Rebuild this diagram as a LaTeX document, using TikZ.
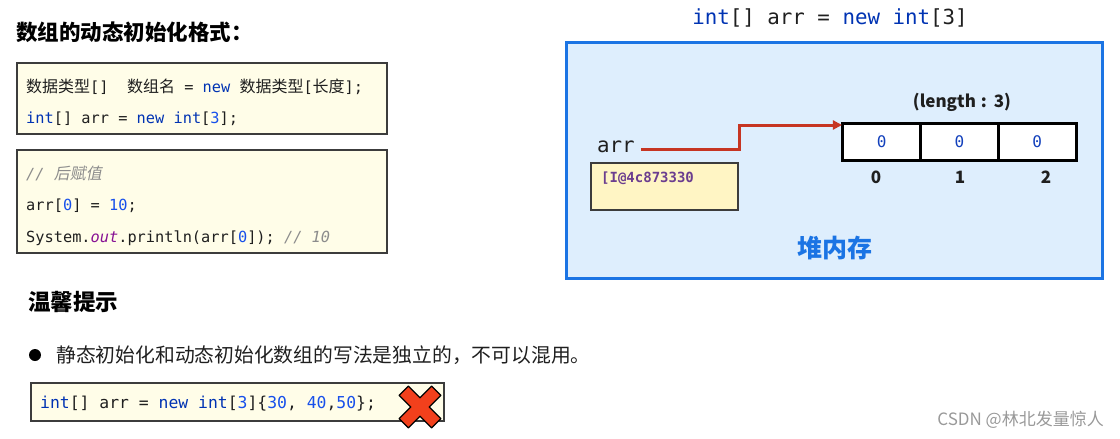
\documentclass[tikz,border=0pt]{standalone}
\usepackage{fontspec}
\setmainfont{Noto Sans CJK SC}
\setmonofont{DejaVu Sans Mono}
\newfontfamily\cjkslant{Noto Sans CJK SC}[FakeSlant=0.2]
\usetikzlibrary{arrows.meta,positioning,calc}
\definecolor{codefill}{HTML}{FFFDE8}
\definecolor{codeline}{HTML}{3C3C3C}
\definecolor{kwblue}{HTML}{0033B3}
\definecolor{numblue}{HTML}{1750EB}
\definecolor{cmtgray}{HTML}{8C8C8C}
\definecolor{fieldpurple}{HTML}{871094}
\definecolor{heapfill}{HTML}{DEEEFD}
\definecolor{heapblue}{HTML}{1B74E4}
\definecolor{ptrred}{HTML}{C63522}
\definecolor{addrfill}{HTML}{FFF5C4}
\definecolor{addrpurple}{HTML}{6B3D8F}
\definecolor{xred}{HTML}{F2401C}
\definecolor{inkdark}{HTML}{1F1F1F}

\newcommand{\fs}[1]{\fontsize{#1}{#1}\selectfont}
\newcommand{\kw}[1]{\textcolor{kwblue}{#1}}
\newcommand{\nm}[1]{\textcolor{numblue}{#1}}
\newcommand{\cmt}[1]{\textcolor{cmtgray}{\itshape #1}}
\newcommand{\zh}[1]{{\rmfamily #1}}

\tikzset{
  codebox/.style={draw=codeline, fill=codefill, line width=1.2pt, inner sep=0pt},
  codetext/.style={anchor=west, inner sep=0pt, text=inkdark, font=\ttfamily\fs{15.3}},
  heapbox/.style={draw=heapblue, fill=heapfill, line width=3pt, inner sep=0pt},
  cellbox/.style={draw=black, fill=white, line width=3pt, inner sep=0pt, outer sep=0pt,
    minimum width=77.7pt, minimum height=37pt, text=numblue!80!black, font=\ttfamily\fs{16}},
  idx/.style={inner sep=0pt, text=inkdark, font=\bfseries\fs{17}},
  ptr/.style={draw=ptrred, line width=3pt, -{Triangle[length=9pt,width=9pt]}},
}

\begin{document}
\begin{tikzpicture}[x=1pt, y=-1pt, node distance=0pt]
  \useasboundingbox (0,0) rectangle (1120,439);

  % left: dynamic init format
  \node[anchor=west, inner sep=0pt, text=black, font=\bfseries\fs{21.5}] (title) at (16,32) {数组的动态初始化格式：};
  \node[codebox, minimum width=370pt, minimum height=71pt] (fmt) at (202,98.5) {};
  \node[codetext] (fmt1) at (26,87) {\zh{\fs{16}数据类型}[]\ \ \zh{\fs{16}数组名} = \kw{new} \zh{\fs{16}数据类型}[\zh{\fs{16}长度}];};
  \node[codetext] (fmt2) at (26,119) {\kw{int}[] arr = \kw{new} \kw{int}[\nm{3}];};

  \node[codebox, minimum width=370pt, minimum height=103pt] (assign) at (202,201.5) {};
  \node[codetext] (asg1) at (26,173) {\cmt{// {\cjkslant\fs{16}后赋值}}};
  \node[codetext] (asg2) at (26,206) {arr[\nm{0}] = \nm{10};};
  \node[codetext] (asg3) at (26,238) {System.\textcolor{fieldpurple}{\itshape out}.println(arr[\nm{0}]); \cmt{// 10}};

  % right: heap memory
  \node[heapbox, minimum width=536pt, minimum height=236pt] (heap) at (834,160) {};
  \node[inner sep=0pt, text=inkdark, font=\ttfamily\fs{20.8}] (decl) at (830,18) {\kw{int}[] arr = \kw{new} \kw{int}[3]};
  \node[anchor=base west, inner sep=0pt, text=inkdark, font=\ttfamily\fs{20.8}] (arr) at (597,152) {arr};
  \node[draw=codeline, fill=addrfill, line width=1.2pt, minimum width=147pt, minimum height=47pt] (addrbox) at (664.5,186.5) {};
  \node[anchor=west, inner sep=0pt, text=addrpurple, font=\ttfamily\bfseries\fs{14}] (addr) at (601,178) {[I@4c873330};

  \node[cellbox] (c0) at (881.8,141.5) {0};
  \node[cellbox, right=of c0] (c1) {0};
  \node[cellbox, right=of c1] (c2) {0};
  \node[idx] (i0) at (876,177) {0};
  \node[idx] (i1) at (960,177) {1};
  \node[idx] (i2) at (1046,177) {2};
  \node[inner sep=0pt, text=inkdark, font=\bfseries\fs{17}] (len) at (962,102) {(length\hspace{5pt}:\hspace{7pt}3)};
  \node[inner sep=0pt, text=heapblue, font=\bfseries\fs{25}] (heaplbl) at (835,248) {堆内存};

  \draw[ptr, shorten >=1pt] ([shift={(6,3.5)}]arr.east) -- ++(99,0) |- ([yshift=-2pt]c0.north west);

  % bottom: tip
  \node[anchor=west, inner sep=0pt, text=black, font=\bfseries\fs{22.5}] (tip) at (28,302) {温馨提示};
  \node[circle, fill=black, inner sep=0pt, minimum size=12pt] (dot) at (35,355) {};
  \node[anchor=west, inner sep=0pt, text=inkdark, font=\fs{19.8}] (rule) at (56,355) {静态初始化和动态初始化数组的写法是独立的，不可以混用。};
  \node[codebox, minimum width=413pt, minimum height=38pt] (wrong) at (237.5,402) {};
  \node[codetext, font=\ttfamily\fs{16.4}] (wrong1) at (40,404) {\kw{int}[] arr = \kw{new} \kw{int}[\nm{3}]\{\nm{30}, \nm{40},\nm{50}\};};
  \begin{scope}[shift={(420,407)}, rotate=45]
    \filldraw[fill=xred, draw=black, line width=1.3pt, line join=round]
      (-6.5,-23) -- (6.5,-23) -- (6.5,-6.5) -- (23,-6.5) -- (23,6.5) -- (6.5,6.5)
      -- (6.5,23) -- (-6.5,23) -- (-6.5,6.5) -- (-23,6.5) -- (-23,-6.5) -- (-6.5,-6.5) -- cycle;
  \end{scope}

  \node[anchor=east, inner sep=0pt, text=black!40, font=\fs{17}] (mark) at (1104,420) {CSDN @林北发量惊人};
\end{tikzpicture}
\end{document}
